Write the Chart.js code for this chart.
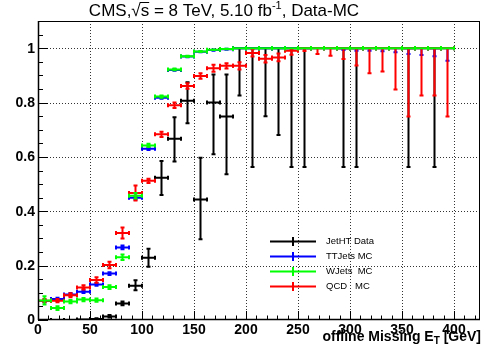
<!DOCTYPE html>
<html>
<head>
<meta charset="utf-8">
<script src="https://cdn.jsdelivr.net/npm/chart.js@4.4.0/dist/chart.umd.min.js"></script>
<style>
  html, body { margin: 0; padding: 0; background: #fff; }
  #wrap { width: 483px; height: 358px; }
</style>
</head>
<body>
<div id="wrap"><canvas id="eff" width="483" height="358"></canvas></div>
<script>
// offline missing ET bin centres (GeV), 12.5 GeV wide bins
var binCentres = [6.25, 18.75, 31.25, 43.75, 56.25, 68.75, 81.25, 93.75, 106.25, 118.75,
  131.25, 143.75, 156.25, 168.75, 181.25, 193.75, 206.25, 218.75, 231.25, 243.75,
  256.25, 268.75, 281.25, 293.75, 306.25, 318.75, 331.25, 343.75, 356.25, 368.75,
  381.25, 393.75];
var binHalfWidth = 6.25;

var xTicks = [0, 50, 100, 150, 200, 250, 300, 350, 400];
var yTicks = [0, 0.2, 0.4, 0.6, 0.8, 1];
var yTickLabels = ["0", "0.2", "0.4", "0.6", "0.8", "1"];

// JetHT Data
var jetHT     = [0, 0, 0, 0.002, 0.004, 0.013, 0.061, 0.126, 0.229, 0.523, 0.667, 0.807, 0.443, 0.80, 0.749, 1, 1, 1, 1, 1, 1, null, null, 1, 1, null, null, null, 1, null, 1, null];
var jetHTLow  = [0, 0, 0, 0.002, 0.003, 0.009, 0.054, 0.109, 0.196, 0.46, 0.583, 0.724, 0.297, 0.61, 0.536, 0.826, 0.563, 0.75, 0.681, 0.563, 0.563, null, null, 0.563, 0.563, null, null, null, 0.563, null, 0.563, null];
var jetHTHigh = [0, 0, 0, 0.003, 0.006, 0.018, 0.068, 0.146, 0.262, 0.585, 0.746, 0.875, 0.597, 0.903, 0.903, 1, 1, 1, 1, 1, 1, null, null, 1, 1, null, null, null, 1, null, 1, null];

// TTJets MC
var ttJets     = [0.07, 0.077, 0.094, 0.104, 0.131, 0.171, 0.267, 0.45, 0.63, 0.818, 0.92, 0.969, 0.987, 0.993, 0.996, 1, 1, 1, 1, 1, 1, 1, 1, 1, 1, 1, 1, 1, 1, 1, 1, 1];
var ttJetsLow  = [0.065, 0.072, 0.089, 0.099, 0.126, 0.166, 0.26, 0.443, 0.625, 0.814, 0.917, 0.967, 0.985, 0.991, 0.994, 1, 1, 1, 1, 1, 1, 1, 1, 0.993, 0.991, 0.991, 0.989, 0.985, 0.979, 0.975, 0.97, 0.954];
var ttJetsHigh = [0.075, 0.082, 0.099, 0.109, 0.136, 0.176, 0.274, 0.457, 0.635, 0.822, 0.923, 0.971, 0.989, 0.995, 0.998, 1, 1, 1, 1, 1, 1, 1, 1, 1, 1, 1, 1, 1, 1, 1, 1, 1];

// WJets MC
var wJets     = [0.072, 0.044, 0.068, 0.075, 0.073, 0.121, 0.231, 0.457, 0.642, 0.822, 0.922, 0.97, 0.988, 0.994, 0.997, 1, 1, 1, 1, 1, 1, 1, 1, 1, 1, 1, 1, 1, 1, 1, 1, 1];
var wJetsLow  = [0.057, 0.037, 0.062, 0.069, 0.067, 0.114, 0.221, 0.447, 0.636, 0.818, 0.919, 0.968, 0.986, 0.993, 0.996, 1, 1, 1, 1, 1, 1, 1, 1, 1, 1, 1, 1, 1, 1, 1, 1, 1];
var wJetsHigh = [0.087, 0.051, 0.074, 0.081, 0.079, 0.128, 0.241, 0.467, 0.648, 0.826, 0.925, 0.972, 0.99, 0.995, 0.998, 1, 1, 1, 1, 1, 1, 1, 1, 1, 1, 1, 1, 1, 1, 1, 1, 1];

// QCD MC
var qcd     = [0.071, 0.071, 0.091, 0.12, 0.147, 0.202, 0.32, 0.467, 0.512, 0.683, 0.79, 0.861, 0.898, 0.926, 0.935, 0.935, 0.982, 0.961, 0.966, 0.991, 1, 1, 1, 1, 1, 1, 1, 1, 1, 1, 1, 1];
var qcdLow  = [0.065, 0.065, 0.084, 0.112, 0.137, 0.19, 0.30, 0.44, 0.504, 0.673, 0.78, 0.851, 0.888, 0.913, 0.925, 0.922, 0.969, 0.947, 0.952, 0.976, 0.99, 0.979, 0.972, 0.96, 0.936, 0.908, 0.914, 0.848, 0.749, 0.826, 0.826, 0.749];
var qcdHigh = [0.077, 0.077, 0.098, 0.128, 0.157, 0.214, 0.34, 0.495, 0.52, 0.693, 0.80, 0.871, 0.908, 0.939, 0.945, 0.948, 0.996, 0.975, 0.98, 0.997, 1, 1, 1, 1, 1, 1, 1, 1, 1, 1, 1, 1];

var FONT = "'Liberation Sans', Arial, Helvetica, sans-serif";

function points(vals, lo, hi) {
  var out = [];
  for (var i = 0; i < binCentres.length; i++) {
    if (vals[i] === null) continue;
    out.push({ x: binCentres[i], y: vals[i], lo: lo[i], hi: hi[i] });
  }
  return out;
}

// ROOT-like error bars with small end caps
var errorBars = {
  id: 'errorBars',
  afterDatasetsDraw: function(chart) {
    var ctx = chart.ctx, xs = chart.scales.x, ys = chart.scales.y;
    var a = chart.chartArea;
    ctx.save();
    ctx.beginPath();
    ctx.rect(a.left, a.top, a.right - a.left, a.bottom - a.top);
    ctx.clip();
    [0, 1, 3, 2].forEach(function(i) {
      var ds = chart.data.datasets[i];
      ctx.strokeStyle = ds.borderColor;
      ctx.lineWidth = 2;
      ds.data.forEach(function(p) {
        var x = xs.getPixelForValue(p.x), y = ys.getPixelForValue(p.y);
        var x0 = xs.getPixelForValue(p.x - binHalfWidth), x1 = xs.getPixelForValue(p.x + binHalfWidth);
        var y0 = ys.getPixelForValue(p.lo), y1 = ys.getPixelForValue(p.hi);
        ctx.beginPath();
        ctx.moveTo(x0, y); ctx.lineTo(x1, y);
        ctx.moveTo(x0, y - 2); ctx.lineTo(x0, y + 2);
        ctx.moveTo(x1, y - 2); ctx.lineTo(x1, y + 2);
        if (Math.abs(y0 - y1) > 0.5) {
          ctx.moveTo(x, y0); ctx.lineTo(x, y1);
          ctx.moveTo(x - 2, y0); ctx.lineTo(x + 2, y0);
          ctx.moveTo(x - 2, y1); ctx.lineTo(x + 2, y1);
        }
        ctx.stroke();
      });
    });
    ctx.restore();
  }
};

// frame, dotted grid, ticks, labels, title and legend
var rootFrame = {
  id: 'rootFrame',
  beforeDatasetsDraw: function(chart) {
    var ctx = chart.ctx, xs = chart.scales.x, ys = chart.scales.y;
    var a = chart.chartArea;
    ctx.save();
    ctx.strokeStyle = '#333';
    ctx.lineWidth = 1;
    ctx.setLineDash([1, 2]);
    xTicks.forEach(function(v) {
      if (v === 0) return;
      var x = Math.round(xs.getPixelForValue(v)) + 0.5;
      ctx.beginPath(); ctx.moveTo(x, a.top); ctx.lineTo(x, a.bottom); ctx.stroke();
    });
    yTicks.forEach(function(v) {
      if (v === 0) return;
      var y = Math.round(ys.getPixelForValue(v)) + 0.5;
      ctx.beginPath(); ctx.moveTo(a.left, y); ctx.lineTo(a.right, y); ctx.stroke();
    });
    ctx.restore();
  },
  afterDraw: function(chart) {
    var ctx = chart.ctx, xs = chart.scales.x, ys = chart.scales.y;
    var a = chart.chartArea;
    ctx.save();
    ctx.strokeStyle = '#000';
    ctx.lineWidth = 1;
    ctx.strokeRect(a.left + 0.5, a.top + 0.5, a.right - a.left - 1, a.bottom - a.top - 1);
    ctx.beginPath();
    ctx.lineWidth = 1.5;
    ctx.moveTo(a.left + 0.5, a.top); ctx.lineTo(a.left + 0.5, a.bottom);
    ctx.moveTo(a.left, a.bottom - 0.5); ctx.lineTo(a.right, a.bottom - 0.5);
    ctx.stroke();

    // ticks
    ctx.lineWidth = 1;
    ctx.beginPath();
    for (var t = 0; t <= 420; t += 10) {
      var x = Math.round(xs.getPixelForValue(t)) + 0.5;
      var len = (t % 50 === 0) ? 9 : 4.5;
      ctx.moveTo(x, a.bottom); ctx.lineTo(x, a.bottom - len);
    }
    for (var k = 0; k <= 21; k++) {
      var v = k * 0.05;
      var y = Math.round(ys.getPixelForValue(v)) + 0.5;
      var ln = (k % 4 === 0) ? 10 : 5;
      ctx.moveTo(a.left, y); ctx.lineTo(a.left + ln, y);
    }
    ctx.stroke();

    // tick labels
    ctx.fillStyle = '#000';
    ctx.font = 'bold 14px ' + FONT;
    ctx.textAlign = 'center';
    ctx.textBaseline = 'top';
    xTicks.forEach(function(v) {
      ctx.fillText(String(v), xs.getPixelForValue(v), a.bottom + 3);
    });
    ctx.textAlign = 'right';
    ctx.textBaseline = 'middle';
    yTicks.forEach(function(v, i) {
      ctx.fillText(yTickLabels[i], a.left - 3, ys.getPixelForValue(v) + 0.5);
    });

    // x axis title: offline Missing E_T [GeV]
    ctx.textBaseline = 'alphabetic';
    ctx.textAlign = 'left';
    var big = 'bold 14px ' + FONT, small = 'bold 10px ' + FONT;
    var s1 = 'offline Missing E', s2 = 'T', s3 = ' [GeV]';
    ctx.font = big; var w1 = ctx.measureText(s1).width, w3 = ctx.measureText(s3).width;
    ctx.font = small; var w2 = ctx.measureText(s2).width;
    var xt = 481 - (w1 + w2 + w3), yb = 341;
    ctx.font = big; ctx.fillText(s1, xt, yb);
    ctx.font = small; ctx.fillText(s2, xt + w1, yb + 3);
    ctx.font = big; ctx.fillText(s3, xt + w1 + w2, yb);

    // title: CMS, sqrt(s) = 8 TeV, 5.10 fb^-1, Data-MC
    var tf = '17px ' + FONT, tsup = '11px ' + FONT;
    var p1 = 'CMS,', p2 = '\u221A', p3 = 's', p4 = ' = 8 TeV, 5.10 fb', p5 = '-1', p6 = ', Data-MC';
    ctx.font = tf;
    var q1 = ctx.measureText(p1).width, q2 = ctx.measureText(p2).width, q3 = ctx.measureText(p3).width;
    var q4 = ctx.measureText(p4).width, q6 = ctx.measureText(p6).width;
    ctx.font = tsup; var q5 = ctx.measureText(p5).width;
    var total = q1 + q2 + q3 + q4 + q5 + q6;
    var tx = 224 - total / 2, tb = 16;
    ctx.font = tf;
    ctx.fillText(p1, tx, tb); tx += q1;
    ctx.fillText(p2, tx, tb); tx += q2;
    ctx.fillText(p3, tx, tb);
    ctx.beginPath(); ctx.lineWidth = 1;
    ctx.moveTo(tx - 1, tb - 13.5); ctx.lineTo(tx + q3, tb - 13.5); ctx.stroke();
    tx += q3;
    ctx.fillText(p4, tx, tb); tx += q4;
    ctx.font = tsup; ctx.fillText(p5, tx, tb - 7); tx += q5;
    ctx.font = tf; ctx.fillText(p6, tx, tb);

    // legend
    var rows = [241.5, 256.5, 271.5, 286.5];
    ctx.font = '9.5px ' + FONT;
    ctx.textBaseline = 'middle';
    chart.data.datasets.forEach(function(ds, i) {
      var ly = rows[i];
      ctx.strokeStyle = ds.borderColor;
      ctx.lineWidth = 2;
      ctx.beginPath();
      ctx.moveTo(270, ly); ctx.lineTo(316, ly);
      ctx.moveTo(293, ly - 4.5); ctx.lineTo(293, ly + 4.5);
      ctx.stroke();
      ctx.fillStyle = '#000';
      ctx.fillText(ds.label, 326, ly);
    });
    ctx.restore();
  }
};

new Chart(document.getElementById('eff'), {
  type: 'scatter',
  data: {
    datasets: [{
      label: 'JetHT Data',
      data: points(jetHT, jetHTLow, jetHTHigh),
      borderColor: '#000000',
      backgroundColor: '#000000'
    }, {
      label: 'TTJets MC',
      data: points(ttJets, ttJetsLow, ttJetsHigh),
      borderColor: '#0000ff',
      backgroundColor: '#0000ff'
    }, {
      label: 'WJets  MC',
      data: points(wJets, wJetsLow, wJetsHigh),
      borderColor: '#00ff00',
      backgroundColor: '#00ff00'
    }, {
      label: 'QCD   MC',
      data: points(qcd, qcdLow, qcdHigh),
      borderColor: '#ff0000',
      backgroundColor: '#ff0000'
    }]
  },
  options: {
    responsive: false,
    animation: false,
    layout: { padding: { left: 38, right: 3, top: 21, bottom: 38 } },
    elements: { point: { radius: 0, hoverRadius: 0 } },
    plugins: {
      legend: { display: false },
      title: { display: false },
      tooltip: { enabled: false }
    },
    scales: {
      x: { type: 'linear', min: 0, max: 425, display: false },
      y: { type: 'linear', min: 0, max: 1.1, display: false }
    }
  },
  plugins: [rootFrame, errorBars]
});
</script>
</body>
</html>
